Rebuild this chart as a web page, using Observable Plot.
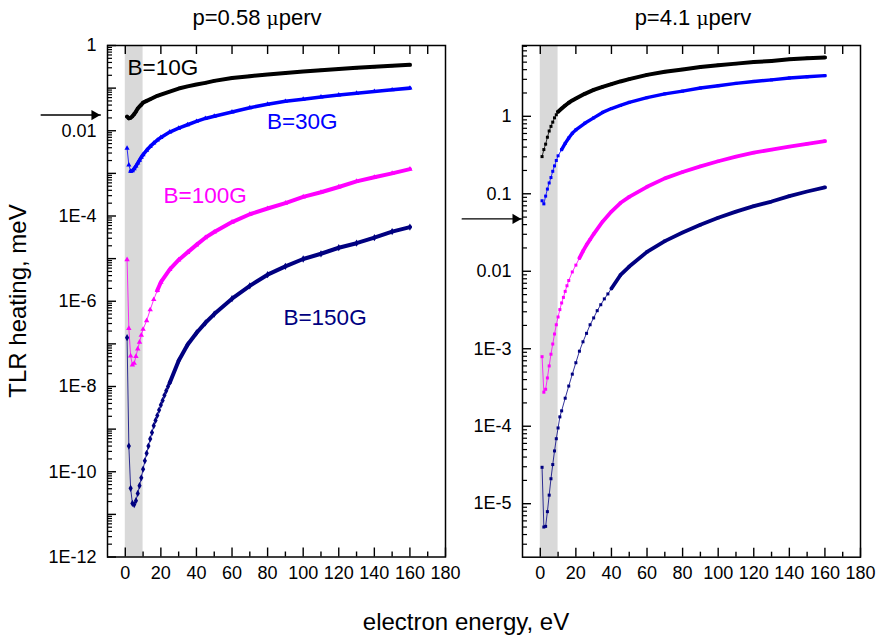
<!DOCTYPE html>
<html><head><meta charset="utf-8">
<script src="https://cdn.jsdelivr.net/npm/d3@7"></script>
<script src="https://cdn.jsdelivr.net/npm/@observablehq/plot@0.6"></script>
<style>
html,body{margin:0;padding:0;background:#fff;}
body{width:879px;height:637px;position:relative;overflow:hidden;font-family:"Liberation Sans",Arial,sans-serif;color:#000;}
#left{position:absolute;left:0;top:0;}
#right{position:absolute;left:455px;top:0;}
.t{position:absolute;white-space:nowrap;line-height:1;}
.mu{font-family:"DejaVu Serif",serif;font-size:0.85em;}
</style></head><body>
<div id="left"></div><div id="right"></div>
<div class="t" id="title1"></div>
<div class="t" id="title2"></div>
<div class="t" id="ylab"></div>
<div class="t" id="xlab"></div>
<script>
// ---------- data ----------
const titles = ["p=0.58 ", "p=4.1 "];
const muText = "\u03bc";
const titleSuffix = "perv";
const yLabel = "TLR heating, meV";
const xLabel = "electron energy, eV";

const energyA = [1,2,3,4,5,6,7,8,9,10,12,14,16,18,20,25,30,35,40,45,50,60,70,80,90,100,110,120,130,140,150,160];
const energyNavyL = [1,2,3,4,5,6,7,8,9,10,11,12,13,14,15,16,17,18,19,20,21,22,23,24,25,30,35,40,45,50,60,70,80,90,100,110,120,130,140,150,160];
const energyMagR = [1,2,3,4,5,6,7,8,9,10,11,12,13,14,15,16,18,20,22,24,26,28,30,35,40,45,50,60,70,80,90,100,110,120,130,140,150,160];
const energyNavyR = [1,2,3,4,5,6,7,8,9,10,11,12,14,16,18,20,22,24,26,28,30,32,34,36,38,40,45,50,60,70,80,90,100,110,120,130,140,150,160];

// left panel, p = 0.58 uperv
const left10G = [0.0214,0.0195,0.0200,0.0219,0.0245,0.0282,0.0331,0.0372,0.0407,0.0457,0.0501,0.0550,0.0603,0.0661,0.0708,0.0832,0.0977,0.110,0.122,0.133,0.148,0.172,0.191,0.209,0.226,0.245,0.263,0.282,0.299,0.316,0.335,0.352];
const left30G = [0.00389,0.00158,0.00112,0.00115,0.00129,0.00148,0.00174,0.00204,0.00240,0.00275,0.00347,0.00427,0.00513,0.00603,0.00692,0.00933,0.0115,0.0138,0.0166,0.0195,0.0219,0.0275,0.0347,0.0417,0.0490,0.0550,0.0617,0.0692,0.0759,0.0832,0.0912,0.100];
const left100G = [9.5e-6,2.3e-7,5.2e-8,3.2e-8,3.5e-8,5.1e-8,7.6e-8,1.1e-7,1.6e-7,2.2e-7,3.5e-7,6.3e-7,1.1e-6,1.8e-6,2.8e-6,5.6e-6,9.3e-6,1.4e-5,2.1e-5,3.1e-5,4.2e-5,7.2e-5,1.1e-4,1.5e-4,2.0e-4,2.8e-4,3.6e-4,4.8e-4,6.5e-4,8.1e-4,1.0e-3,1.26e-3];
const left150G = [1.4e-7,4.0e-10,4.1e-11,1.8e-11,1.7e-11,2.1e-11,3.1e-11,4.7e-11,7.2e-11,1.15e-10,1.8e-10,2.7e-10,4.0e-10,5.9e-10,8.3e-10,1.2e-9,1.6e-9,2.1e-9,2.8e-9,3.7e-9,4.7e-9,6.2e-9,7.9e-9,1.0e-8,1.23e-8,4.0e-8,9.5e-8,1.8e-7,3.1e-7,5.0e-7,1.15e-6,2.3e-6,4.2e-6,6.6e-6,9.8e-6,1.3e-5,1.8e-5,2.3e-5,3.1e-5,4.3e-5,5.5e-5];

// right panel, p = 4.1 uperv
const right10G = [0.302,0.372,0.437,0.537,0.646,0.741,0.841,0.955,1.047,1.148,1.259,1.380,1.496,1.603,1.698,1.950,2.188,2.399,2.600,2.818,3.020,3.428,3.758,4.027,4.315,4.571,4.786,5.012,5.188,5.433,5.623,5.754];
const right30G = [0.0813,0.0741,0.0933,0.115,0.138,0.162,0.195,0.229,0.269,0.309,0.372,0.447,0.525,0.603,0.668,0.813,0.955,1.122,1.259,1.380,1.514,1.738,1.950,2.113,2.317,2.483,2.661,2.818,2.951,3.126,3.236,3.350];
const right100G = [7.9e-4,2.75e-4,3.0e-4,4.2e-4,6.0e-4,8.5e-4,1.15e-3,1.55e-3,2.04e-3,2.57e-3,3.2e-3,3.9e-3,4.6e-3,5.5e-3,6.5e-3,7.6e-3,9.8e-3,0.0120,0.0148,0.0182,0.0219,0.0257,0.0302,0.0437,0.0589,0.0759,0.0912,0.123,0.158,0.191,0.226,0.263,0.302,0.339,0.372,0.407,0.442,0.479];
const right150G = [2.95e-5,5.0e-6,5.1e-6,7.9e-6,1.29e-5,2.1e-5,3.2e-5,4.8e-5,6.9e-5,9.5e-5,1.32e-4,1.58e-4,2.3e-4,3.3e-4,4.7e-4,6.6e-4,9.3e-4,1.23e-3,1.58e-3,2.04e-3,2.5e-3,3.1e-3,3.7e-3,4.4e-3,5.1e-3,6.0e-3,8.9e-3,0.0115,0.0178,0.0245,0.0316,0.0398,0.049,0.0589,0.0692,0.0794,0.0933,0.107,0.121];

const seriesNames = ["B=10G","B=30G","B=100G","B=150G"];
const seriesColors = ["#000000","#0000ff","#ff00ff","#000080"];

// series labels (left panel) : energy, value
const labelE = [1.3, 79.6, 21.5, 88.9];
const labelV = [0.30, 0.0164, 3.0e-4, 4.2e-7];

// shaded energy band and arrows
const bandRange = [0, 10];
const arrowLeft = {x1: -47.3, x2: -14, y: 0.0234};
const arrowRight = {x1: -43.9, x2: -10.6, y: 0.0474};

// axes
const xDomain = [-10, 180];
const xMajorTicks = [0,20,40,60,80,100,120,140,160,180];
const xMinorTicks = [10,30,50,70,90,110,130,150,170];
const xTopTicks = [0,20,40,60,80,100,120,140,160,170];
const yDomainLeft = [1e-12, 1];
const yDomainRight = [2.04e-6, 8.2];
const leftTickValues = [1, 1e-2, 1e-4, 1e-6, 1e-8, 1e-10, 1e-12];
const leftTickLabels = ["1","0.01","1E-4","1E-6","1E-8","1E-10","1E-12"];
const rightTickValues = [1, 1e-1, 1e-2, 1e-3, 1e-4, 1e-5];
const rightTickLabels = ["1","0.1","0.01","1E-3","1E-4","1E-5"];

// ---------- helpers ----------
function logTicks(lo, hi) {
  const dec = [], minor = [];
  for (let n = Math.floor(Math.log10(lo)); n <= Math.ceil(Math.log10(hi)); n++) {
    const p = Math.pow(10, n);
    if (p >= lo * 0.999 && p <= hi) dec.push(p);
    for (let k = 2; k <= 9; k++) { const v = k * p; if (v >= lo && v <= hi) minor.push(v); }
  }
  return {dec, minor};
}
function zip(E, V) { return E.map((e, i) => ({e, v: V[i]})); }

const H = 600, MT = 45;
function panel(cfg) {
  const {dec, minor} = logTicks(cfg.yDomain[0], cfg.yDomain[1]);
  const lab = new Map(cfg.tickValues.map((v, i) => [v, cfg.tickLabels[i]]));
  const fw = cfg.width - cfg.ml - cfg.mr;
  const fh = H - MT - cfg.mb;
  const marks = [
    Plot.rect([bandRange], {x1: d => d[0], x2: d => d[1], fill: "#d9d9d9"})
  ];
  for (const s of cfg.series) {
    const data = zip(s.energy, s.values);
    marks.push(Plot.line(data, {x: "e", y: "v", stroke: s.color, strokeWidth: 1, strokeOpacity: 0.8}));
    marks.push(Plot.line(data.filter(d => d.e >= s.thickFrom), {x: "e", y: "v", stroke: s.color, strokeWidth: s.thick}));
    marks.push(Plot.dot(data, {x: "e", y: "v", symbol: s.symbol, r: s.r, fill: s.color, stroke: "none"}));
  }
  if (cfg.labels) marks.push(Plot.text(cfg.labels, {x: "e", y: "v", text: "t", fill: "c", textAnchor: "start", lineAnchor: "middle", fontSize: 22.5}));
  const a = cfg.arrow;
  marks.push(Plot.arrow([a], {x1: "x1", x2: "x2", y1: "y", y2: "y", stroke: "black", strokeWidth: 1.3, headLength: 0}));
  marks.push(Plot.dot([a], {x: "x2", y: "y", symbol: "triangle", rotate: 90, r: 3.8, fill: "black", dx: -6}));
  marks.push(
    // inward ticks
    Plot.tickY(minor, {y: d => d, insetRight: fw - 5, stroke: "black", strokeWidth: 1.2}),
    Plot.tickY(dec, {y: d => d, insetRight: fw - 9, stroke: "black", strokeWidth: 1.4}),
    Plot.tickX(xMinorTicks, {x: d => d, insetTop: fh - 5, stroke: "black", strokeWidth: 1.4}),
    Plot.tickX(xMajorTicks, {x: d => d, insetTop: fh - 9, stroke: "black", strokeWidth: 1.4}),
    Plot.tickX(xTopTicks, {x: d => d, insetBottom: fh - 9, stroke: "black", strokeWidth: 1.4}),
    // tick labels
    Plot.axisY({ticks: cfg.tickValues, anchor: "left", tickSize: 0, tickPadding: 11, tickFormat: d => lab.get(d), fontSize: 18, label: null}),
    Plot.axisX({ticks: xMajorTicks, anchor: "bottom", tickSize: 0, tickPadding: 9, fontSize: 18, label: null}),
    Plot.frame({stroke: "black", strokeWidth: 1.5})
  );
  return Plot.plot({
    width: cfg.width, height: H,
    marginLeft: cfg.ml, marginRight: cfg.mr, marginTop: MT, marginBottom: cfg.mb,
    style: {fontFamily: '"Liberation Sans", Arial, sans-serif', fontSize: "16px", background: "transparent", overflow: "visible", color: "black"},
    x: {domain: xDomain, label: null},
    y: {type: "log", domain: cfg.yDomain, label: null},
    marks
  });
}

const styleL = [
  {symbol: "square", r: 1.6, thickFrom: 1, thick: 4},
  {symbol: "triangle", r: 1.9, thickFrom: 3, thick: 3.6},
  {symbol: "triangle", r: 2, thickFrom: 18, thick: 4},
  {symbol: "diamond", r: 2.2, thickFrom: 25, thick: 4}
];
const styleR = [
  {symbol: "square", r: 1.7, thickFrom: 10, thick: 4},
  {symbol: "square", r: 1.7, thickFrom: 12, thick: 3.4},
  {symbol: "square", r: 1.7, thickFrom: 22, thick: 3.8},
  {symbol: "square", r: 1.7, thickFrom: 40, thick: 3.8}
];
const leftSeries = [[energyA, left10G],[energyA, left30G],[energyA, left100G],[energyNavyL, left150G]]
  .map(([energy, values], i) => ({energy, values, color: seriesColors[i], ...styleL[i]}));
const rightSeries = [[energyA, right10G],[energyA, right30G],[energyMagR, right100G],[energyNavyR, right150G]]
  .map(([energy, values], i) => ({energy, values, color: seriesColors[i], ...styleR[i]}));
const labels = seriesNames.map((t, i) => ({t, e: labelE[i], v: labelV[i], c: seriesColors[i]}));

document.getElementById("left").append(panel({
  width: 455, ml: 107, mr: 10, mb: 43.5, yDomain: yDomainLeft,
  tickValues: leftTickValues, tickLabels: leftTickLabels, series: leftSeries, labels, arrow: arrowLeft
}));
document.getElementById("right").append(panel({
  width: 424, ml: 67, mr: 19, mb: 43.3, yDomain: yDomainRight,
  tickValues: rightTickValues, tickLabels: rightTickLabels, series: rightSeries, labels: null, arrow: arrowRight
}));

// ---------- texts ----------
function setTitle(id, txt, cx) {
  const el = document.getElementById(id);
  el.innerHTML = "";
  el.append(txt);
  const s = document.createElement("span"); s.className = "mu"; s.textContent = muText; el.append(s);
  el.append(titleSuffix);
  el.style.fontSize = "22px";
  el.style.left = cx + "px"; el.style.top = "7px"; el.style.transform = "translateX(-50%)";
}
setTitle("title1", titles[0], 257);
setTitle("title2", titles[1], 693);
const yl = document.getElementById("ylab");
yl.textContent = yLabel; yl.style.fontSize = "24px";
yl.style.left = "18px"; yl.style.top = "301px"; yl.style.transform = "translate(-50%,-50%) rotate(-90deg)";
const xl = document.getElementById("xlab");
xl.textContent = xLabel; xl.style.fontSize = "24px";
xl.style.left = "466px"; xl.style.top = "622px"; xl.style.transform = "translate(-50%,-50%)";
</script>
</body></html>
